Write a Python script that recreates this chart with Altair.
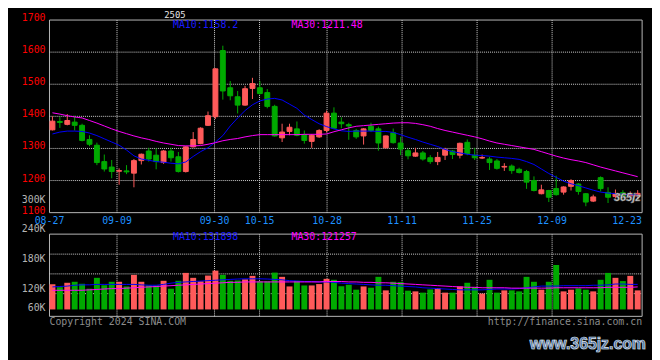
import altair as alt
import pandas as pd

# ---------------- data ----------------
title_text = "2505"
date_labels = ["08-27", "09-09", "09-30", "10-15", "10-28", "11-11", "11-25", "12-09", "12-23"]
date_days = [0, 9, 22, 28, 37, 47, 57, 67, 77]
grid_days = [9, 22, 28, 37, 47, 57, 67]

price_ticks = [1700, 1600, 1500, 1400, 1300, 1200, 1100]
price_grid = [1600, 1500, 1400, 1300, 1200]
vol_ticks = [300, 240, 180, 120]          # thousands
vol_tick_labels = ["300K", "240K", "180K", "120K"]
vol_low_tick = [60]
vol_low_label = ["60K"]
vol_grid = [190, 150, 110]

opens = [1358, 1384, 1375, 1382, 1372, 1328, 1310, 1259, 1242, 1229,
         1230, 1223, 1262, 1292, 1279, 1256, 1292, 1274, 1228, 1305,
         1315, 1372, 1399, 1605, 1489, 1461, 1435, 1487, 1489, 1474,
         1431, 1333, 1353, 1361, 1343, 1322, 1336, 1356, 1410, 1382,
         1374, 1356, 1339, 1369, 1361, 1302, 1349, 1317, 1293, 1276,
         1286, 1271, 1259, 1279, 1292, 1279, 1319, 1279, 1270, 1267,
         1261, 1242, 1245, 1235, 1228, 1200, 1159, 1169, 1175, 1164,
         1182, 1189, 1159, 1136, 1209, 1163, 1150, 1162, 1152, 1152]
highs = [1400, 1398, 1407, 1402, 1377, 1341, 1318, 1281, 1264, 1238,
         1248, 1267, 1284, 1302, 1300, 1295, 1302, 1289, 1307, 1351,
         1366, 1415, 1550, 1620, 1510, 1479, 1495, 1520, 1510, 1485,
         1436, 1377, 1377, 1384, 1356, 1345, 1360, 1418, 1428, 1397,
         1380, 1361, 1363, 1380, 1368, 1340, 1362, 1336, 1300, 1302,
         1292, 1279, 1289, 1302, 1295, 1318, 1328, 1302, 1281, 1274,
         1267, 1254, 1250, 1240, 1233, 1213, 1187, 1171, 1215, 1182,
         1204, 1192, 1161, 1156, 1213, 1179, 1172, 1170, 1166, 1170]
lows = [1356, 1364, 1372, 1356, 1322, 1307, 1248, 1228, 1207, 1187,
        1220, 1179, 1250, 1259, 1235, 1252, 1259, 1225, 1225, 1303,
        1313, 1370, 1392, 1452, 1450, 1409, 1433, 1454, 1468, 1425,
        1337, 1320, 1341, 1338, 1315, 1302, 1333, 1350, 1360, 1363,
        1327, 1330, 1312, 1351, 1293, 1300, 1315, 1279, 1266, 1274,
        1262, 1252, 1248, 1264, 1267, 1269, 1279, 1264, 1267, 1233,
        1234, 1230, 1221, 1222, 1174, 1166, 1157, 1133, 1153, 1156,
        1169, 1156, 1120, 1133, 1166, 1130, 1146, 1148, 1146, 1142]
closes = [1385, 1381, 1387, 1372, 1325, 1313, 1256, 1236, 1228, 1231,
          1227, 1262, 1282, 1267, 1259, 1292, 1271, 1228, 1305, 1328,
          1363, 1402, 1548, 1479, 1464, 1435, 1486, 1502, 1471, 1431,
          1339, 1351, 1366, 1341, 1325, 1341, 1356, 1410, 1363, 1377,
          1370, 1336, 1361, 1356, 1317, 1339, 1318, 1298, 1277, 1286,
          1267, 1259, 1272, 1297, 1281, 1316, 1284, 1271, 1272, 1256,
          1238, 1244, 1231, 1225, 1195, 1169, 1171, 1148, 1156, 1180,
          1200, 1166, 1133, 1149, 1175, 1148, 1160, 1153, 1158, 1160]
volumes_k = [129, 123, 132, 134, 130, 120, 142, 127, 134, 134,
             124.6, 148, 134, 126.6, 126.6, 136, 120, 136, 152, 142,
             135, 146.6, 156.6, 148, 136, 136.6, 139, 146, 135, 135,
             152.6, 144, 124.6, 136, 126.6, 126.6, 129.4, 140, 138, 125,
             128, 118, 124.6, 122, 144, 116.6, 134, 133.4, 116, 114.6,
             112, 118.6, 121.4, 112, 112, 124.6, 132, 123.4, 110, 138,
             112, 116.6, 116.6, 114.6, 144, 134, 118, 134, 168, 114.6,
             118, 120.6, 118, 114.6, 138, 152, 142, 135.4, 146, 116.6]
ma10 = [1345, 1351, 1354, 1354, 1353, 1348, 1340, 1330, 1320, 1310,
        1295, 1277, 1267, 1263, 1259, 1257, 1254, 1252, 1258, 1275,
        1290, 1302, 1320, 1340, 1370, 1395, 1418, 1436, 1448, 1454,
        1456, 1451, 1438, 1425, 1404, 1390, 1377, 1368, 1361, 1355,
        1353, 1354, 1354, 1354, 1353, 1353, 1350, 1343, 1335, 1328,
        1320, 1313, 1306, 1297, 1290, 1286, 1282, 1279, 1278, 1276,
        1273, 1271, 1269, 1266, 1259, 1250, 1236, 1222, 1210, 1198,
        1190, 1184, 1177, 1170, 1164, 1161, 1159, 1157, 1156, 1155]
ma30 = [1411, 1407, 1402, 1398, 1395, 1387, 1379, 1370, 1361, 1353,
        1346, 1339, 1333, 1328, 1322, 1317, 1313, 1309, 1308, 1308,
        1309, 1313, 1318, 1324, 1328, 1331, 1336, 1340, 1343, 1343,
        1343, 1343, 1343, 1343, 1344, 1344, 1344, 1345, 1352, 1358,
        1364, 1369, 1371, 1373, 1375, 1377, 1379, 1380, 1380, 1378,
        1374, 1369, 1362, 1356, 1351, 1346, 1341, 1336, 1330, 1323,
        1317, 1313, 1309, 1305, 1301, 1297, 1290, 1283, 1276, 1270,
        1265, 1261, 1256, 1249, 1242, 1236, 1230, 1224, 1218, 1212]
vma10_k = [123.6, 124.4, 125.3, 127, 127.8, 127.8, 128.7, 128.7, 128.7, 128.7,
           128.7, 128.7, 127.8, 127, 127, 128.7, 131.2, 132.9, 133.7, 134.6,
           135.4, 136.3, 137.1, 138, 138.8, 139.6, 140, 140, 140, 139.6,
           138.8, 138, 136.3, 135.4, 134.6, 134.6, 133.7, 133.7, 132.9, 131.2,
           130.4, 129.5, 128.7, 127.8, 127, 127, 126.1, 125.3, 124.4, 123.6,
           121.9, 121.1, 120.2, 119.4, 118.5, 117.7, 117.7, 117.7, 117.7, 118.5,
           119.4, 119.4, 119.4, 120.2, 121.9, 123.6, 125.3, 125.3, 125.3, 126.1,
           126.1, 126.1, 126.1, 127, 127, 127.8, 129.5, 129.5, 128.7, 128.7]
vma30_k = [116.8, 116.8, 116.8, 116.8, 116.8, 117.7, 118.5, 119.4, 120.2, 120.2,
           121.1, 121.9, 122.8, 123.6, 124.4, 125.3, 126.1, 127, 127.8, 128.7,
           129.5, 130.4, 131.2, 132, 132.9, 132.9, 133.7, 133.7, 133.7, 133.7,
           133.7, 133.7, 133.7, 133.7, 133.7, 133.7, 133.7, 134.6, 134.6, 134.6,
           133.7, 133.7, 132.9, 132.9, 132, 132, 131.2, 130.4, 129.5, 128.7,
           127.8, 127, 126.1, 125.3, 124.4, 123.6, 122.8, 122.8, 121.9, 121.9,
           121.9, 121.9, 121.1, 121.1, 121.1, 121.1, 121.1, 121.1, 121.9, 121.9,
           121.9, 121.9, 121.9, 121.9, 121.9, 122.8, 122.8, 122.8, 122.8, 123.6]

legend_price = ["MA10:1158.2", "MA30:1211.48"]
legend_vol = ["MA10:131898", "MA30:121257"]
copyright_text = "Copyright 2024 SINA.COM"
url_text = "http://finance.sina.com.cn"
watermark_text = "www.365jz.com"
logo_text = "365jz"

# ---------------- styling ----------------
RED = "#ff5a5a"
GREEN = "#00aa00"
BLUE = "#0000ff"
MAGENTA = "#ff00ff"
FRAME = "#b8b8b8"
GRID = "#d0d0d0"
MONO = "DejaVu Sans Mono"
N = len(opens)


def xs():
    return alt.Scale(domain=[0, N], nice=False, zero=False)


def ps():
    return alt.Scale(domain=[1100, 1700], range=[195, 0], nice=False, zero=False)


def vs():
    return alt.Scale(domain=[60, 300], range=[302, 182], nice=False, zero=False)


df = pd.DataFrame({
    "i": list(range(N)), "open": opens, "high": highs, "low": lows, "close": closes,
    "vol": volumes_k, "ma10": ma10, "ma30": ma30, "vma10": vma10_k, "vma30": vma30_k,
})

base = alt.Chart(df).transform_calculate(
    dir="datum.close >= datum.open ? 'up' : 'down'",
    x0="datum.i + 0.07", x1="datum.i + 0.73", xc="datum.i + 0.4",
    v0="datum.i", v1="datum.i + 0.8",
)
col_scale = alt.Scale(domain=["up", "down"], range=[RED, GREEN])
fill_enc = alt.Color("dir:N", scale=col_scale, legend=None)
stroke_enc = alt.Stroke("dir:N", scale=col_scale, legend=None)

one = pd.DataFrame({"k": [0]})

# frames
frame_main = alt.Chart(one).mark_rect(fillOpacity=0, stroke=FRAME, strokeWidth=1).encode(
    x=alt.X(datum=0, scale=xs(), axis=None), x2=alt.X2(datum=N),
    y=alt.Y(datum=1100, scale=ps(), axis=None), y2=alt.Y2(datum=1700))
frame_vol = alt.Chart(one).mark_rect(fillOpacity=0, stroke=FRAME, strokeWidth=1).encode(
    x=alt.X(datum=0, scale=xs(), axis=None), x2=alt.X2(datum=N),
    y=alt.Y(datum=64, scale=vs(), axis=None), y2=alt.Y2(datum=230.5))

# horizontal grids
hgrid_price = alt.Chart(pd.DataFrame({"p": price_grid})).mark_rule(
    color=GRID, strokeWidth=1, strokeDash=[1, 1]).encode(
    x=alt.X(datum=0, scale=xs(), axis=None), x2=alt.X2(datum=N),
    y=alt.Y("p:Q", scale=ps(), axis=None))
hgrid_vol = alt.Chart(pd.DataFrame({"p": vol_grid})).mark_rule(
    color=GRID, strokeWidth=1, strokeDash=[1, 1]).encode(
    x=alt.X(datum=0, scale=xs(), axis=None), x2=alt.X2(datum=N),
    y=alt.Y("p:Q", scale=vs(), axis=None))

# vertical grids
gdf = alt.Chart(pd.DataFrame({"d": grid_days})).transform_calculate(gx="datum.d * %d / %d" % (N, N - 1))
vgrid_price = gdf.mark_rule(color=GRID, strokeWidth=1, strokeDash=[1, 1]).encode(
    x=alt.X("gx:Q", scale=xs(), axis=None),
    y=alt.Y(datum=1100, scale=ps(), axis=None), y2=alt.Y2(datum=1700))
vgrid_vol = gdf.mark_rule(color=GRID, strokeWidth=1, strokeDash=[1, 1]).encode(
    x=alt.X("gx:Q", scale=xs(), axis=None),
    y=alt.Y(datum=64, scale=vs(), axis=None), y2=alt.Y2(datum=230.5))

# volume
vol_bars = base.mark_rect().encode(
    x=alt.X("v0:Q", scale=xs(), axis=None), x2="v1:Q",
    y=alt.Y("vol:Q", scale=vs(), axis=None), y2=alt.Y2(datum=78),
    color=fill_enc)
vma10_line = base.mark_line(color=BLUE, strokeWidth=1).encode(
    x=alt.X("xc:Q", scale=xs(), axis=None), y=alt.Y("vma10:Q", scale=vs(), axis=None))
vma30_line = base.mark_line(color=MAGENTA, strokeWidth=1).encode(
    x=alt.X("xc:Q", scale=xs(), axis=None), y=alt.Y("vma30:Q", scale=vs(), axis=None))

# candles
wicks = base.mark_rule(strokeWidth=1).encode(
    x=alt.X("xc:Q", scale=xs(), axis=None),
    y=alt.Y("low:Q", scale=ps(), axis=None), y2="high:Q",
    color=fill_enc)
bodies = base.mark_rect(strokeWidth=1).encode(
    x=alt.X("x0:Q", scale=xs(), axis=None), x2="x1:Q",
    y=alt.Y("open:Q", scale=ps(), axis=None), y2="close:Q",
    color=fill_enc, stroke=stroke_enc)
ma10_line = base.mark_line(color=BLUE, strokeWidth=1).encode(
    x=alt.X("xc:Q", scale=xs(), axis=None), y=alt.Y("ma10:Q", scale=ps(), axis=None))
ma30_line = base.mark_line(color=MAGENTA, strokeWidth=1).encode(
    x=alt.X("xc:Q", scale=xs(), axis=None), y=alt.Y("ma30:Q", scale=ps(), axis=None))

# axis-like labels
price_lbl = alt.Chart(pd.DataFrame({"v": price_ticks})).mark_text(
    align="right", baseline="middle", dx=-4, dy=-2, font=MONO, fontSize=10, color="#ff0000").encode(
    x=alt.value(0), y=alt.Y("v:Q", scale=ps(), axis=None), text=alt.Text("v:Q", format="d"))
vol_lbl = alt.Chart(pd.DataFrame({"v": vol_ticks, "t": vol_tick_labels})).mark_text(
    align="right", baseline="middle", dx=-4, font=MONO, fontSize=10, color="#b4b4b4").encode(
    x=alt.value(0), y=alt.Y("v:Q", scale=vs(), axis=None), text="t:N")
vol_lbl_low = alt.Chart(pd.DataFrame({"v": vol_low_tick, "t": vol_low_label})).mark_text(
    align="right", baseline="middle", dx=-4, dy=-10, font=MONO, fontSize=10, color="#b4b4b4").encode(
    x=alt.value(0), y=alt.Y("v:Q", scale=vs(), axis=None), text="t:N")
date_lbl = alt.Chart(pd.DataFrame({"d": date_days, "t": date_labels})).transform_calculate(
    gx="datum.d * %d / %d" % (N, N - 1)).mark_text(
    align="center", baseline="middle", font=MONO, fontSize=10, color="#1e90ff").encode(
    x=alt.X("gx:Q", scale=xs(), axis=None), y=alt.value(204), text="t:N")


def static_text(txt, px, py, color, align="left", size=10, font=MONO, weight="normal", **kw):
    return alt.Chart(pd.DataFrame({"t": [txt]})).mark_text(
        align=align, baseline="middle", font=font, fontSize=size, fontWeight=weight,
        color=color, **kw).encode(x=alt.value(px), y=alt.value(py), text="t:N")


texts = [
    static_text(title_text, 127, -5, "#e6e6e6", align="center", size=9),
    static_text(legend_price[0], 125, 5, "#1a1aff"),
    static_text(legend_price[1], 245, 5, MAGENTA),
    static_text(legend_vol[0], 125, 220, "#1a1aff"),
    static_text(legend_vol[1], 245, 220, MAGENTA),
    static_text(copyright_text, 0, 306, "#8c8c8c"),
    static_text(url_text, 600, 306, "#8c8c8c", align="right"),
    static_text(logo_text, 585, 180, "#e8e8e8", align="center", size=11,
                font="Liberation Sans", weight="bold", fontStyle="italic",
                stroke="#707070", strokeWidth=0.6),
    static_text(watermark_text, 546, 329, "#202020", align="center", size=16,
                font="Liberation Sans", weight="bold"),
    static_text(watermark_text, 545, 328, "#4a6a9c", align="center", size=16,
                font="Liberation Sans", weight="bold", stroke="#dde4ee", strokeWidth=0.7),
]

chart = alt.layer(
    frame_main, frame_vol, hgrid_price, hgrid_vol, vgrid_price, vgrid_vol,
    vol_bars, vma10_line, vma30_line,
    wicks, bodies, ma10_line, ma30_line,
    price_lbl, vol_lbl, vol_lbl_low, date_lbl, *texts,
).resolve_scale(y="independent").properties(
    width=600, height=300, background="black",
    padding={"left": 42, "top": 10, "right": 10, "bottom": 42},
    autosize=alt.AutoSizeParams(type="none"),
).configure_view(stroke=None)

chart.save("out.html", embed_options={"renderer": "svg", "actions": False})
